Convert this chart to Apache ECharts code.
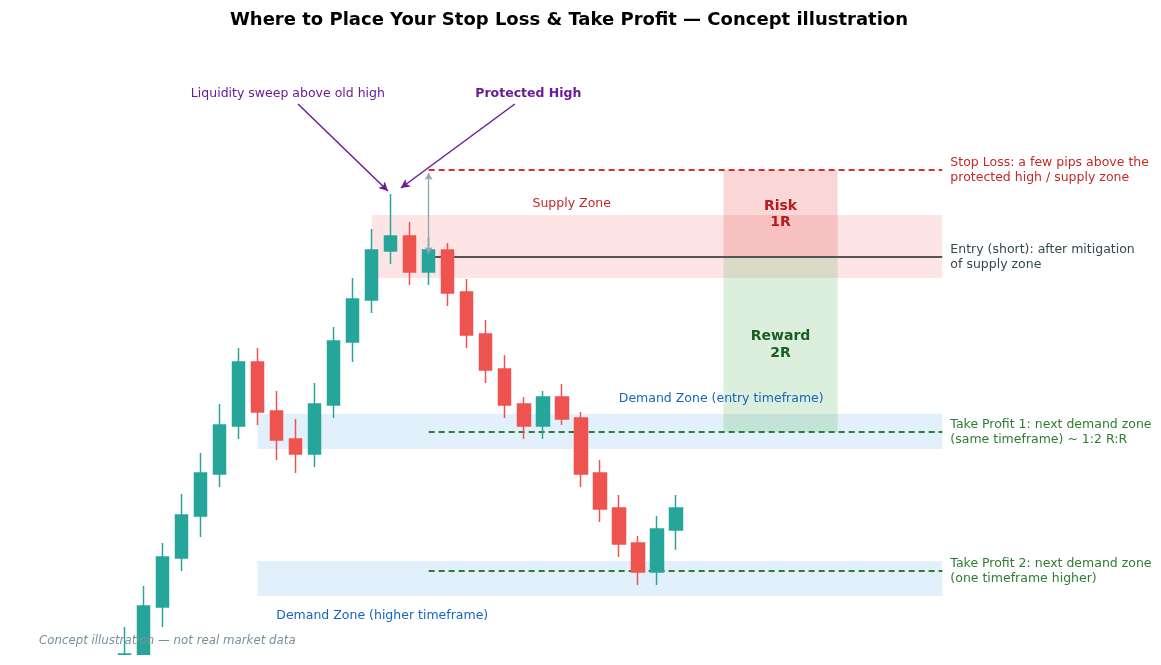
<!DOCTYPE html>
<html>
<head>
<meta charset="utf-8">
<script src="https://cdn.jsdelivr.net/npm/echarts@6/dist/echarts.min.js"></script>
<style>
html,body{margin:0;padding:0;background:#fff;}
#chart{width:1161px;height:665px;}
</style>
</head>
<body>
<div id="chart"></div>
<script>
// ---- Data (price units are arbitrary: concept illustration) ----
const candleIndex = ['0','1','2','3','4','5','6','7','8','9','10','11','12','13','14','15','16','17','18','19','20','21','22','23','24','25','26','27','28','29','30','31','32','33','34','35','36','37','38','39','40','41','42','43','44','45','46','47','48','49','50','51','52','53','54'];
const opens  = [-4.8, 0.0, 4.8, 9.7, 13.9, 18.1, 22.9, 29.3, 24.4, 21.6, 20.1, 25.0, 31.3, 35.5, 40.4, 41.9, 38.3, 40.5, 36.3, 32.1, 28.6, 25.1, 22.9, 25.8, 23.7, 18.2, 14.7, 11.2, 8.3, 12.5];
const closes = [0.1, 4.9, 9.8, 14.0, 18.2, 23.0, 29.3, 24.3, 21.5, 20.1, 25.1, 31.4, 35.6, 40.5, 41.9, 38.3, 40.5, 36.2, 32.0, 28.5, 25.0, 22.9, 25.8, 23.6, 18.1, 14.6, 11.1, 8.3, 12.6, 14.7];
const lows   = [-6.0, -1.4, 2.8, 8.4, 11.8, 16.8, 21.6, 23.0, 19.5, 18.2, 18.8, 23.7, 29.3, 34.2, 39.1, 37.0, 37.0, 34.9, 30.7, 27.2, 23.7, 21.6, 21.6, 23.0, 16.8, 13.3, 9.8, 7.0, 7.0, 10.5];
const highs  = [2.8, 6.9, 11.2, 16.1, 20.2, 25.1, 30.7, 30.7, 26.4, 23.6, 27.2, 32.8, 37.7, 42.6, 46.1, 43.3, 41.8, 41.2, 37.6, 33.5, 30.0, 25.8, 26.4, 27.1, 24.3, 19.5, 16.0, 11.9, 13.9, 16.0];

// key levels
const stopLoss = 48.5;
const entry = 39.8;
const takeProfit1 = 22.3;
const takeProfit2 = 8.4;
// zones: [xStart, xEnd, low, high]
const supplyZone = [13, 43, 37.7, 44.0];
const demandEntryZone = [7, 43, 20.6, 24.1];
const demandHigherZone = [7, 43, 5.9, 9.4];
const levelStartX = 16, levelEndX = 43;
const rrBoxX = [31.5, 37.5];
// annotation arrows: [fromX, fromY, toX, toY]
const sweepArrow = [9.13, 55.1, 13.86, 46.4];
const protectedArrow = [20.53, 55.1, 14.54, 46.7];
const riskArrow = [16, 48.2, 16, 40.1];

const FONT = 'DejaVu Sans';
const candleData = opens.map((o, i) => [o, closes[i], lows[i], highs[i]]);

function txt(x, y, text, color, opts) {
  opts = opts || {};
  return {
    value: [x, y],
    label: {
      show: true,
      position: opts.position || 'right',
      distance: 0,
      formatter: text,
      color: color,
      opacity: 1,
      fontFamily: FONT,
      fontSize: opts.size || 12.5,
      fontWeight: opts.bold ? 'bold' : 'normal',
      lineHeight: opts.lh || 15
    }
  };
}

const chart = echarts.init(document.getElementById('chart'), null, {renderer: 'canvas'});
const option = {
  animation: false,
  backgroundColor: '#ffffff',
  title: {
    text: 'Where to Place Your Stop Loss & Take Profit — Concept illustration',
    left: 564, top: 6, textAlign: 'center',
    textStyle: {fontFamily: FONT, fontWeight: 'bold', fontSize: 18, color: '#000'}
  },
  graphic: [
    { // plot-area bottom edge (clip region below the axes)
      type: 'rect', left: 0, top: 655, z: 50,
      shape: {width: 1161, height: 10}, style: {fill: '#ffffff'}
    },
    {
      type: 'text', left: 39, top: 635, z: 60,
      style: {text: 'Concept illustration — not real market data', fill: '#78909c',
        font: 'italic 11.8px "DejaVu Sans"'}
    }
  ],
  grid: {left: 114.8, top: 35, width: 1046.65, height: 620},
  xAxis: [
    {type: 'category', data: candleIndex, show: false, boundaryGap: true},
    {type: 'value', min: -0.5, max: 54.5, show: false}
  ],
  yAxis: {type: 'value', min: 0, max: 62, show: false, splitLine: {show: false}},
  series: [
    { // zones
      type: 'line', xAxisIndex: 1, data: [], z: 1, silent: true,
      markArea: {
        silent: true, z: 1,
        data: [
          [{xAxis: supplyZone[0], yAxis: supplyZone[3], itemStyle: {color: 'rgba(239,83,80,0.15)'}}, {xAxis: supplyZone[1], yAxis: supplyZone[2]}],
          [{xAxis: demandEntryZone[0], yAxis: demandEntryZone[3], itemStyle: {color: 'rgba(30,136,229,0.13)'}}, {xAxis: demandEntryZone[1], yAxis: demandEntryZone[2]}],
          [{xAxis: demandHigherZone[0], yAxis: demandHigherZone[3], itemStyle: {color: 'rgba(30,136,229,0.13)'}}, {xAxis: demandHigherZone[1], yAxis: demandHigherZone[2]}],
          [{xAxis: rrBoxX[0], yAxis: stopLoss, itemStyle: {color: 'rgba(229,57,53,0.2)'}}, {xAxis: rrBoxX[1], yAxis: entry}],
          [{xAxis: rrBoxX[0], yAxis: entry, itemStyle: {color: 'rgba(76,175,80,0.2)'}}, {xAxis: rrBoxX[1], yAxis: takeProfit1}]
        ]
      }
    },
    { // level lines
      type: 'line', xAxisIndex: 1, data: [], z: 2, silent: true,
      markLine: {
        silent: true, z: 2, symbol: ['none', 'none'], label: {show: false},
        data: [
          [{coord: [levelStartX, stopLoss], lineStyle: {color: '#d32f2f', width: 2, type: [6, 4]}}, {coord: [levelEndX, stopLoss]}],
          [{coord: [levelStartX, entry], lineStyle: {color: '#555555', width: 2, type: 'solid'}}, {coord: [levelEndX, entry]}],
          [{coord: [levelStartX, takeProfit1], lineStyle: {color: '#2e7d32', width: 2, type: [6, 4]}}, {coord: [levelEndX, takeProfit1]}],
          [{coord: [levelStartX, takeProfit2], lineStyle: {color: '#2e7d32', width: 2, type: [6, 4]}}, {coord: [levelEndX, takeProfit2]}]
        ]
      }
    },
    {
      type: 'candlestick', xAxisIndex: 0, yAxisIndex: 0, z: 3,
      data: candleData, barWidth: 13, clip: true,
      itemStyle: {color: '#26a69a', color0: '#ef5350', borderColor: '#26a69a', borderColor0: '#ef5350', borderWidth: 1.5}
    },
    { // arrows
      type: 'line', xAxisIndex: 1, data: [], z: 6, silent: true,
      markLine: {
        silent: true, z: 6, label: {show: false}, symbolSize: [7, 9],
        data: [
          [{coord: [sweepArrow[0], sweepArrow[1]], symbol: 'none', lineStyle: {color: '#6a1b9a', width: 1.5, type: 'solid'}}, {coord: [sweepArrow[2], sweepArrow[3]], symbol: 'arrow'}],
          [{coord: [protectedArrow[0], protectedArrow[1]], symbol: 'none', lineStyle: {color: '#6a1b9a', width: 1.5, type: 'solid'}}, {coord: [protectedArrow[2], protectedArrow[3]], symbol: 'arrow'}],
          [{coord: [riskArrow[0], riskArrow[1]], symbol: 'arrow', symbolSize: [6, 7], lineStyle: {color: '#90a4ae', width: 1.3, type: 'solid'}}, {coord: [riskArrow[2], riskArrow[3]], symbol: 'arrow', symbolSize: [6, 7]}]
        ]
      }
    },
    { // text annotations
      type: 'scatter', xAxisIndex: 1, z: 8, silent: true, clip: false,
      symbolSize: 1, itemStyle: {color: 'rgba(0,0,0,0)', opacity: 1},
      data: [
        txt(43.4, stopLoss, 'Stop Loss: a few pips above the\nprotected high / supply zone', '#c62828'),
        txt(43.4, entry, 'Entry (short): after mitigation\nof supply zone', '#37474f'),
        txt(43.4, takeProfit1, 'Take Profit 1: next demand zone\n(same timeframe) ~ 1:2 R:R', '#2e7d32'),
        txt(43.4, takeProfit2, 'Take Profit 2: next demand zone\n(one timeframe higher)', '#2e7d32'),
        txt(23.52, 45.1, 'Supply Zone', '#c62828', {position: 'inside'}),
        txt(31.38, 25.6, 'Demand Zone (entry timeframe)', '#1565c0', {position: 'inside'}),
        txt(13.56, 3.95, 'Demand Zone (higher timeframe)', '#1565c0', {position: 'inside'}),
        txt(8.6, 56.1, 'Liquidity sweep above old high', '#6a1b9a', {position: 'inside'}),
        txt(21.24, 56.1, 'Protected High', '#6a1b9a', {position: 'inside', bold: true}),
        txt(34.5, (stopLoss + entry) / 2 - 0.1, 'Risk\n1R', '#b71c1c', {position: 'inside', bold: true, size: 14, lh: 16.5}),
        txt(34.5, (entry + takeProfit1) / 2 - 0.05, 'Reward\n2R', '#1b5e20', {position: 'inside', bold: true, size: 14, lh: 16.5})
      ]
    }
  ]
};
chart.setOption(option);
</script>
</body>
</html>
